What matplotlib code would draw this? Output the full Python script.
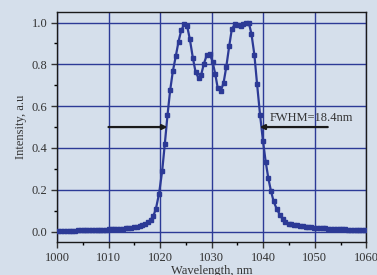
import matplotlib
matplotlib.use("Agg")
import matplotlib.pyplot as plt
from matplotlib.ticker import MultipleLocator

# spectrum (nm, normalised intensity)
wl_tail_left = [1000.27, 1000.81, 1001.36, 1001.90, 1002.44, 1002.99, 1003.53, 1004.07,
                1004.62, 1005.16, 1005.70, 1006.25, 1006.79, 1007.33, 1007.88, 1008.42,
                1008.96, 1009.51, 1010.05, 1010.59, 1011.14, 1011.68, 1012.22, 1012.77,
                1013.31, 1013.85, 1014.40, 1014.94, 1015.48, 1016.03, 1016.57, 1017.11,
                1017.66]
int_tail_left = [0.004, 0.004, 0.004, 0.005, 0.005, 0.005, 0.005, 0.006,
                 0.006, 0.006, 0.006, 0.007, 0.007, 0.007, 0.008, 0.008,
                 0.009, 0.009, 0.010, 0.010, 0.011, 0.012, 0.013, 0.014,
                 0.015, 0.016, 0.018, 0.020, 0.022, 0.025, 0.029, 0.034,
                 0.044]

wl_peak = [1018.2, 1018.7, 1019.2, 1019.8, 1020.4, 1020.92, 1021.43, 1021.95, 1022.47,
           1023.05, 1023.57, 1024.1, 1024.67, 1025.25, 1025.77, 1026.35, 1026.87,
           1027.45, 1027.97, 1028.5, 1029.08, 1029.6, 1030.17, 1030.68, 1031.17,
           1031.73, 1032.3, 1032.83, 1033.4, 1033.9, 1034.5, 1035.0, 1035.6, 1036.1,
           1036.65, 1037.2, 1037.7, 1038.27, 1038.8, 1039.37, 1039.95, 1040.46,
           1040.99, 1041.5, 1042.0, 1042.6, 1043.2, 1043.75, 1044.3, 1044.9]
int_peak = [0.057, 0.075, 0.110, 0.182, 0.289, 0.421, 0.556, 0.676, 0.767,
            0.840, 0.909, 0.963, 0.992, 0.982, 0.920, 0.831, 0.764,
            0.735, 0.751, 0.804, 0.847, 0.850, 0.813, 0.755, 0.687,
            0.671, 0.711, 0.788, 0.888, 0.968, 0.992, 0.986, 0.984, 0.992,
            1.000, 0.998, 0.947, 0.847, 0.705, 0.560, 0.432, 0.335,
            0.254, 0.193, 0.145, 0.108, 0.081, 0.060, 0.048, 0.038]

wl_tail_right = [1045.45, 1046.0, 1046.55, 1047.1, 1047.65, 1048.2, 1048.75, 1049.3,
                 1049.85, 1050.4, 1050.95, 1051.5, 1052.05, 1052.6, 1053.15, 1053.7,
                 1054.25, 1054.8, 1055.35, 1055.9, 1056.45, 1057.0, 1057.55, 1058.1,
                 1058.65, 1059.2, 1059.75]
int_tail_right = [0.034, 0.031, 0.029, 0.027, 0.025, 0.024, 0.022, 0.021,
                  0.019, 0.018, 0.017, 0.016, 0.015, 0.014, 0.013, 0.012,
                  0.012, 0.011, 0.010, 0.010, 0.009, 0.008, 0.008, 0.007,
                  0.007, 0.006, 0.006]

wavelength = wl_tail_left + wl_peak + wl_tail_right
intensity = int_tail_left + int_peak + int_tail_right

fwhm_label = "FWHM=18.4nm"
half_level = 0.5
left_edge = 1021.4
right_edge = 1039.3

bg = "#d5dfeb"
blue = "#2c3a96"

plt.rcParams["font.family"] = ["Liberation Serif", "DejaVu Serif"]

fig = plt.figure(figsize=(3.77, 2.75), dpi=100, facecolor=bg)
ax = fig.add_axes([0.151, 0.12, 0.821, 0.836], facecolor=bg)

ax.grid(True, which="major", color=blue, lw=1.0)
ax.set_axisbelow(True)

ax.plot(wavelength, intensity, color=blue, lw=1.6, marker="s", ms=2.6,
        mec=blue, mfc=blue, zorder=3)

# FWHM arrows
ax.annotate("", xy=(left_edge, half_level), xytext=(1010, half_level),
            arrowprops=dict(arrowstyle="-|>", color="#1a1a1a", lw=1.6,
                            mutation_scale=7, shrinkA=0, shrinkB=0), zorder=4)
ax.annotate("", xy=(right_edge, half_level), xytext=(1052.5, half_level),
            arrowprops=dict(arrowstyle="-|>", color="#1a1a1a", lw=1.6,
                            mutation_scale=7, shrinkA=0, shrinkB=0), zorder=4)
ax.text(1041.2, 0.545, fwhm_label, fontsize=9, color="#333333", va="center")

ax.set_xlim(1000, 1060)
ax.set_ylim(-0.05, 1.05)
ax.xaxis.set_major_locator(MultipleLocator(10))
ax.xaxis.set_minor_locator(MultipleLocator(5))
ax.yaxis.set_major_locator(MultipleLocator(0.2))
ax.yaxis.set_minor_locator(MultipleLocator(0.1))
ax.yaxis.set_major_formatter(plt.FuncFormatter(lambda v, p: f"{v:.1f}"))

ax.tick_params(which="major", direction="out", length=4, width=1, labelsize=9,
               colors="#333333", pad=3)
ax.tick_params(which="minor", direction="out", length=2.5, width=1)
for s in ax.spines.values():
    s.set_color("#1a1a1a")
    s.set_linewidth(1.0)

ax.set_xlabel("Wavelength, nm", fontsize=9, color="#333333", labelpad=1)
ax.set_ylabel("Intensity, a.u", fontsize=9, color="#333333", labelpad=3)

fig.savefig("out.png", dpi=100, facecolor=bg)
